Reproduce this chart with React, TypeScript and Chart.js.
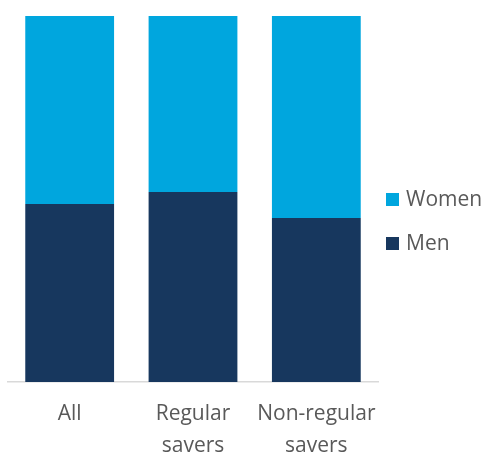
import React, { useEffect, useRef } from "react";
import { Chart, registerables } from "chart.js";

Chart.register(...registerables);

const categories: string[][] = [["All"], ["Regular", "savers"], ["Non-regular", "savers"]];
const menShare = [48.6, 51.9, 44.8];
const womenShare = [51.4, 48.1, 55.2];
const seriesNames = ["Women", "Men"];

const WOMEN_COLOR = "#00A6DE";
const MEN_COLOR = "#17375E";
const TEXT_COLOR = "#595959";
const FONT = "'Open Sans', sans-serif";

const legendPlugin = {
  id: "sideLegend",
  afterDraw(chart: any) {
    const ctx = chart.ctx;
    const items = [
      { name: seriesNames[0], color: WOMEN_COLOR, y: 200 },
      { name: seriesNames[1], color: MEN_COLOR, y: 244 },
    ];
    ctx.save();
    ctx.font = `21px ${FONT}`;
    ctx.textBaseline = "middle";
    ctx.textAlign = "left";
    for (const it of items) {
      ctx.fillStyle = it.color;
      ctx.fillRect(386, it.y - 7, 13, 13);
      ctx.fillStyle = TEXT_COLOR;
      ctx.fillText(it.name, 406, it.y);
    }
    ctx.restore();
  },
};

export default function App() {
  const ref = useRef<HTMLCanvasElement>(null);
  useEffect(() => {
    if (!ref.current) return;
    const chart = new Chart(ref.current, {
      type: "bar",
      data: {
        labels: categories,
        datasets: [
          { label: seriesNames[1], data: menShare, backgroundColor: MEN_COLOR, barPercentage: 0.72, categoryPercentage: 1 },
          { label: seriesNames[0], data: womenShare, backgroundColor: WOMEN_COLOR, barPercentage: 0.72, categoryPercentage: 1 },
        ],
      },
      options: {
        animation: false,
        responsive: true,
        maintainAspectRatio: false,
        layout: { padding: { left: 8, top: 16, right: 106, bottom: 0 } },
        plugins: { legend: { display: false }, tooltip: { enabled: false } },
        scales: {
          x: {
            stacked: true,
            grid: { display: false },
            border: { display: true, color: "#D9D9D9", width: 1.5 },
            ticks: {
              color: TEXT_COLOR,
              font: { family: FONT, size: 21, lineHeight: 1.52 },
              padding: 8,
              maxRotation: 0,
              autoSkip: false,
            },
            afterFit(scale: any) {
              scale.height = 71;
            },
          },
          y: {
            stacked: true,
            display: false,
            min: 0,
            max: 100,
          },
        },
      },
      plugins: [legendPlugin],
    });
    return () => chart.destroy();
  }, []);
  return (
    <div style={{ position: "fixed", left: 0, top: 0, width: 484, height: 453, background: "#fff" }}>
      <canvas ref={ref} />
    </div>
  );
}
